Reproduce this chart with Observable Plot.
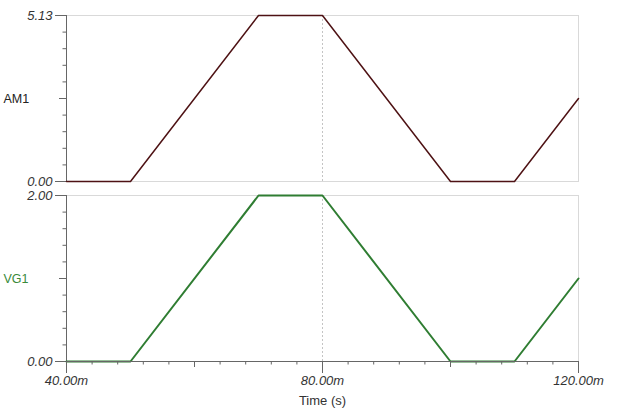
<!DOCTYPE html>
<html>
<head>
<meta charset="utf-8">
<script src="https://cdn.jsdelivr.net/npm/d3@7"></script>
<script src="https://cdn.jsdelivr.net/npm/@observablehq/plot@0.6"></script>
<style>
  html, body { margin: 0; padding: 0; background: #fff; }
  #wrap { position: relative; width: 620px; height: 415px; overflow: hidden; }
  #top, #bottom { position: absolute; left: 0; }
  #top { top: 0; }
  #bottom { top: 188px; }
  svg { font-family: "Liberation Sans", Arial, sans-serif; }
  g[aria-label="y-axis tick label"] text,
  g[aria-label="x-axis tick label"] text { font-style: italic; }
</style>
</head>
<body>
<div id="wrap"><div id="top"></div><div id="bottom"></div></div>
<script>
// ---- data ----
const timeMs = [40, 50, 70, 80, 100, 110, 120];
const am1 = [0, 0, 5.13, 5.13, 0, 0, 2.565];
const vg1 = [0, 0, 2.00, 2.00, 0, 0, 1.00];

// ---- tick definitions ----
const xLabelTicks = [40, 80, 120];
const xMidTicks = [60, 100];
const xMinorTicks = [44, 48, 52, 56, 64, 68, 72, 76, 84, 88, 92, 96, 104, 108, 112, 116];
const xGuide = [80];
const am1Labels = [0, 5.13];
const vg1Labels = [0, 2.00];
const xDomain = [40, 120];

const amData = timeMs.map((t, i) => ({t, v: am1[i]}));
const vgData = timeMs.map((t, i) => ({t, v: vg1[i]}));

function panel({data, yMax, labels, name, nameColor, lineColor, lineWidth, height, marginTop, marginBottom, showX}) {
  const minor = d3.range(1, 10).filter(i => i !== 5).map(i => yMax * i / 10);
  const mid = [yMax / 2];
  const marks = [
    Plot.frame({stroke: "#d9d9d9"}),
    Plot.ruleX(xGuide, {stroke: "#c4c4c4", strokeDasharray: "2,2"}),
    Plot.axisY(minor, {tickSize: 3.5, tickFormat: () => "", stroke: "#666", label: null}),
    Plot.axisY(mid, {tickSize: 7, tickFormat: () => "", stroke: "#666", label: null}),
    Plot.axisY(labels, {tickSize: 11, tickPadding: 3, tickFormat: d => d.toFixed(2), stroke: "#666", fill: "#333", fontSize: 13, label: null}),
    Plot.ruleX([xDomain[0]], {stroke: "#666"}),
    Plot.text([name], {frameAnchor: "left", dx: -63, textAnchor: "start", fill: nameColor, fontSize: 12.5}),
    Plot.line(data, {x: "t", y: "v", stroke: lineColor, strokeWidth: lineWidth})
  ];
  if (showX) {
    marks.push(
      Plot.ruleY([0], {stroke: "#666"}),
      Plot.axisX(xMinorTicks, {tickSize: 3.5, tickFormat: () => "", stroke: "#666", label: null}),
      Plot.axisX(xMidTicks, {tickSize: 6, tickFormat: () => "", stroke: "#666", label: null}),
      Plot.axisX(xLabelTicks, {tickSize: 12, tickPadding: 2, tickFormat: d => d.toFixed(2) + "m", stroke: "#666", fill: "#333", fontSize: 13, label: null}),
      Plot.text(["Time (s)"], {frameAnchor: "bottom", dy: 39, lineAnchor: "middle", fill: "#333", fontSize: 13})
    );
  } else {
    marks.push(Plot.axisX({ticks: [], label: null}));
  }
  return Plot.plot({
    width: 620, height, marginLeft: 66, marginRight: 42, marginTop, marginBottom,
    style: {fontFamily: "Liberation Sans, Arial, sans-serif", background: "transparent"},
    x: {domain: xDomain},
    y: {domain: [0, yMax]},
    marks
  });
}

document.getElementById("top").append(panel({
  data: amData, yMax: 5.13, labels: am1Labels, name: "AM1", nameColor: "#222",
  lineColor: "#4e1214", lineWidth: 1.5, height: 188, marginTop: 15, marginBottom: 7, showX: false
}));
document.getElementById("bottom").append(panel({
  data: vgData, yMax: 2.00, labels: vg1Labels, name: "VG1", nameColor: "#3a8a3a",
  lineColor: "#2f7d32", lineWidth: 2, height: 227, marginTop: 7, marginBottom: 54, showX: true
}));
</script>
</body>
</html>
